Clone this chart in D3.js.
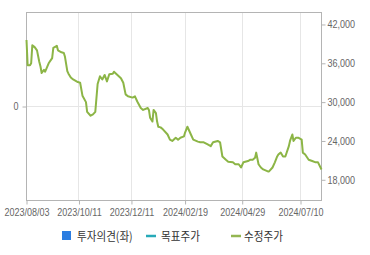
<!DOCTYPE html>
<html>
<head>
<meta charset="utf-8">
<script src="https://cdn.jsdelivr.net/npm/d3@7/dist/d3.min.js"></script>
<style>
  body { margin: 0; background: #fff; }
  svg { display: block; }
</style>
</head>
<body>
<div id="chart"></div>
<script>
// trading-day index (0 = 2023/08/03) and adjusted price
const tradingDay = [0, 1, 3, 4, 5, 7, 9, 11, 12, 13, 15, 16, 19, 22, 23, 26, 27, 30, 32, 33,
  35, 36, 38, 40, 44, 46, 48, 51, 52, 55, 57, 59, 61, 63, 65, 67, 69, 71, 74, 75,
  78, 81, 83, 85, 87, 91, 93, 95, 98, 100, 104, 105, 106, 108, 109, 111, 112, 113, 115, 117,
  121, 123, 125, 128, 130, 132, 135, 136, 138, 141, 143, 147, 149, 152, 155, 158, 160, 164, 166, 168,
  171, 173, 177, 179, 182, 184, 186, 190, 192, 194, 196, 197, 199, 201, 203, 207, 208, 211, 213, 215,
  216, 218, 220, 222, 225, 226, 228, 229, 231, 233, 236, 237, 239, 242, 245, 248, 250, 253];
const price = [39600, 35700, 35700, 36000, 38800, 38500, 38000, 36200, 35500, 34500, 35000, 34700, 36000, 36800, 38400, 38700, 38000, 37700, 37600, 37000,
  34800, 34400, 33800, 33500, 33100, 33000, 31000, 30000, 28500, 27900, 28100, 28500, 32800, 34000, 33500, 34200, 33200, 34300, 34400, 34700,
  34200, 33700, 33000, 31200, 30900, 30700, 30900, 30100, 29100, 28800, 29100, 28800, 27600, 27000, 28800, 28300, 27000, 26200, 26100, 25800,
  25000, 24200, 24000, 24500, 24200, 24500, 24700, 25300, 26200, 25000, 24200, 23900, 23800, 23800, 23500, 23200, 23800, 24000, 23800, 21600,
  21100, 20800, 20700, 20400, 20400, 19900, 20700, 20900, 21100, 21100, 21400, 22200, 20400, 19900, 19600, 19300, 19300, 19900, 20700, 21600,
  21900, 22200, 21600, 21600, 23200, 24000, 25000, 24000, 24500, 24500, 24200, 22200, 21900, 21100, 20900, 20700, 20700, 19600];

const lastDay = 253;
const tickDays = [0, 45, 90, 136, 185, 235];
const tickDates = ['2023/08/03', '2023/10/11', '2023/12/11', '2024/02/19', '2024/04/29', '2024/07/10'];
const priceTicks = [18000, 24000, 30000, 36000, 42000];
const opinionTicks = [0];
const legendLabels = ['투자의견(좌)', '목표주가', '수정주가'];
const legendColors = ['#2b7de1', '#27aab8', '#94b652'];

const W = 370, H = 255;
const margin = { top: 12.5, right: 48.5, bottom: 54.5, left: 26.5 };
const width = W - margin.left - margin.right;
const height = H - margin.top - margin.bottom;

const svg = d3.select('#chart').append('svg')
  .attr('width', W)
  .attr('height', H);

const g = svg.append('g')
  .attr('transform', `translate(${margin.left},${margin.top})`);

const x = d3.scaleLinear().domain([0, lastDay]).range([0, width]);
const y = d3.scaleLinear().domain([14800, 43850]).range([height, 0]);
const yLeft = d3.scaleLinear().domain([-1, 1]).range([height, 0]);

const labelFont = '"Liberation Sans", Arial, sans-serif';
const squeeze = 0.86; // tick labels in the original are a narrow face

// grid lines
g.append('g').selectAll('line')
  .data(tickDays.slice(1))
  .join('line')
  .attr('x1', d => Math.round(x(d))).attr('x2', d => Math.round(x(d)))
  .attr('y1', 0).attr('y2', height)
  .attr('stroke', '#e6e6e6');

g.append('g').selectAll('line')
  .data(opinionTicks)
  .join('line')
  .attr('x1', 0).attr('x2', width)
  .attr('y1', d => Math.round(yLeft(d))).attr('y2', d => Math.round(yLeft(d)))
  .attr('stroke', '#e6e6e6');

// frame
g.append('rect')
  .attr('width', width).attr('height', height)
  .attr('fill', 'none')
  .attr('stroke', '#b4b4b4');

// bottom axis
const xAxis = d3.axisBottom(x)
  .tickValues(tickDays)
  .tickFormat((d, i) => tickDates[i])
  .tickSize(4)
  .tickPadding(4);

const xg = g.append('g')
  .attr('transform', `translate(0,${height})`)
  .call(xAxis);

// right axis
const yAxis = d3.axisRight(y)
  .tickValues(priceTicks)
  .tickFormat(d3.format(','))
  .tickSize(4)
  .tickPadding(3);

const yg = g.append('g')
  .attr('transform', `translate(${width},0)`)
  .call(yAxis);

// left axis (opinion)
const yLeftAxis = d3.axisLeft(yLeft)
  .tickValues(opinionTicks)
  .tickFormat(d3.format('d'))
  .tickSize(4)
  .tickPadding(4);

const ylg = g.append('g').call(yLeftAxis);

[xg, yg, ylg].forEach(a => {
  a.select('.domain').remove();
  a.selectAll('.tick line').attr('stroke', '#b4b4b4');
  a.selectAll('.tick text')
    .attr('fill', '#666')
    .attr('transform', `scale(${squeeze},1)`)
    .style('font-family', labelFont)
    .style('font-size', '10.5px');
});
// keep the right labels starting just past the tick
yg.selectAll('.tick text').attr('x', 6 / squeeze);
ylg.selectAll('.tick text').attr('x', -8 / squeeze);

// price line
const line = d3.line()
  .x((d, i) => x(tradingDay[i]))
  .y(d => y(d));

g.append('path')
  .datum(price)
  .attr('fill', 'none')
  .attr('stroke', '#8cb546')
  .attr('stroke-width', 2)
  .attr('stroke-linejoin', 'round')
  .attr('d', line);

// legend
const legend = svg.append('g')
  .style('font-family', '"Noto Sans CJK KR", "Noto Sans", sans-serif')
  .style('font-size', '12px');

const markX = [62, 146, 231];
const textX = [77, 161, 244];

legend.append('rect')
  .attr('x', markX[0]).attr('y', 231)
  .attr('width', 9).attr('height', 9)
  .attr('fill', legendColors[0]);

[1, 2].forEach(i => {
  legend.append('line')
    .attr('x1', markX[i]).attr('x2', markX[i] + 10)
    .attr('y1', 236).attr('y2', 236)
    .attr('stroke', legendColors[i])
    .attr('stroke-width', 2.5);
});

legend.selectAll('text')
  .data(legendLabels)
  .join('text')
  .attr('transform', (d, i) => `translate(${textX[i]},240.5) scale(0.88,1)`)
  .attr('fill', '#333')
  .text(d => d);
</script>
</body>
</html>
